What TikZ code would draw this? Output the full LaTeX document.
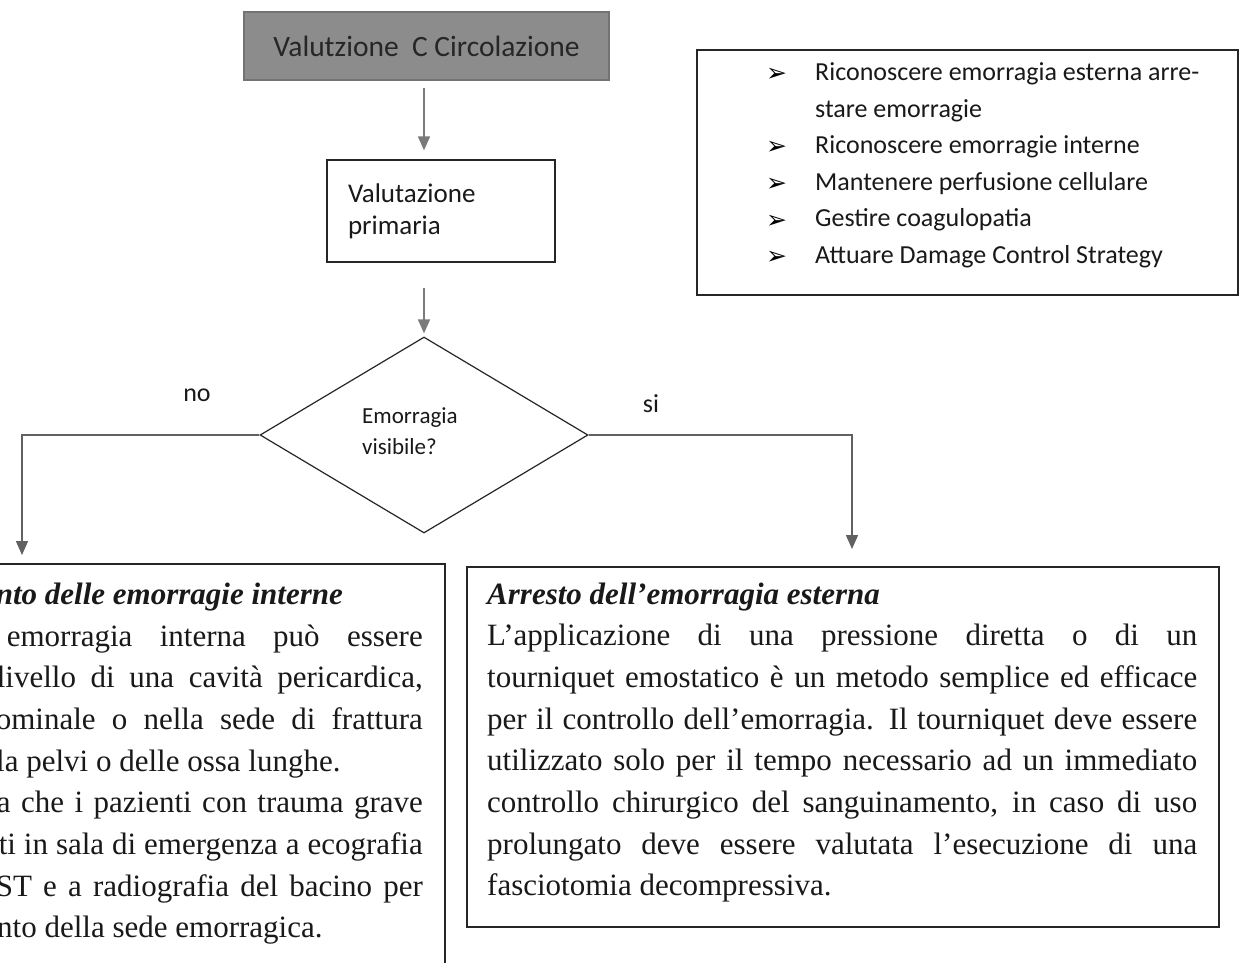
\documentclass[tikz,border=0pt]{standalone}
\usepackage{fontspec}
\setmainfont{Liberation Serif}
\newfontfamily\calfont{Carlito}
\newfontfamily\symfont{DejaVu Sans}
\usetikzlibrary{shapes.geometric,arrows.meta}
\tikzset{
  frame/.style={draw=black!85, line width=1.3pt, fill=white, inner sep=0pt},
  startbox/.style={draw=black!55, line width=1.3pt, fill=black!45, inner sep=0pt},
  flowarrow/.style={draw=black!52, line width=1.6pt, -{Triangle[length=14pt,width=12pt]}},
  connarrow/.style={draw=black!62, line width=1.5pt, -{Triangle[length=14pt,width=12pt]}},
  txt/.style={inner sep=0pt, anchor=base west, text=black!90},
  txte/.style={inner sep=0pt, anchor=base east, text=black!90},
  calsz/.style={font={\calfont\fontsize{#1}{#1}\selectfont}},
}
\newcommand{\serifsz}{\fontsize{31}{41.7}\selectfont}
\begin{document}
\begin{tikzpicture}[x=1pt,y=-1pt]
\useasboundingbox (0,0) rectangle (1245,963);
\clip (0,0) rectangle (1245,963);
\fill[white] (0,0) rectangle (1245,963);

% start box
\node[startbox, minimum width=365pt, minimum height=68pt, text=black!85,
      font={\calfont\fontsize{29.5}{34}\selectfont}] (b1) at (426.5,46) {Valutzione\ \ C Circolazione};

% second box
\node[frame, minimum width=228pt, minimum height=102pt, text width=186pt, align=left,
      text=black!90, font={\calfont\fontsize{27}{32}\selectfont}] (b2) at (441,211) {Valutazione\\primaria};

% decision
\node[diamond, draw=black!85, line width=1.2pt, fill=white, minimum width=328pt,
      minimum height=196pt, inner sep=0pt] (d) at (424,435) {};
\node[txt] (dq) at (362,423) {\parbox[t]{120pt}{\calfont\fontsize{23}{31}\selectfont Emorragia\\visibile?}};

\node[inner sep=0pt, text=black!90, calsz=26] (no) at (197,395) {no};
\node[inner sep=0pt, text=black!90, calsz=26] (si) at (651,404) {si};

% arrows
\draw[flowarrow, shorten <=7pt, shorten >=9pt] (b1.south -| d.north) -- (b2.north -| d.north);
\draw[flowarrow, shorten <=25pt, shorten >=3pt] (b2.south -| d.north) -- (d.north);
\coordinate (ltip) at (22,555);
\coordinate (rtip) at (852,549);
\draw[connarrow] (d.west) -| (ltip);
\draw[connarrow] (d.east) -| (rtip);

% top right box
\node[frame, minimum width=541pt, minimum height=245pt] (tr) at (967.5,172.5) {};
\node[txt] (trt) at (815,81) {\parbox[t]{420pt}{\calfont\fontsize{26}{36.5}\selectfont
  Riconoscere emorragia esterna arre-\\stare emorragie\\Riconoscere emorragie interne\\
  Mantenere perfusione cellulare\\Gestire coagulopatia\\Attuare Damage Control Strategy}};
\foreach \yy/\nm in {81/bu1,154/bu2,190.5/bu3,227/bu4,263.5/bu5}
  \node[txt, text=black] (\nm) at (766,\yy+1) {\symfont\fontsize{25}{25}\selectfont ➢};

% left bottom box (cut by the page edge)
\node[frame, minimum width=480pt, minimum height=430pt] (lb) at (205,779) {};
\node[txte] (l0) at (343,604) {\serifsz\bfseries\itshape nto delle emorragie interne};
\node[txte] (l1) at (423,646) {\serifsz\makebox[416pt][s]{emorragia interna può essere}};
\node[txte] (l2) at (423,687.7) {\serifsz\makebox[426pt][s]{livello di una cavità pericardica,}};
\node[txte] (l3) at (423,729.4) {\serifsz\makebox[427pt][s]{ominale o nella sede di frattura}};
\node[txt] (l4) at (-4,771.1) {\serifsz la pelvi o delle ossa lunghe.};
\node[txte] (l5) at (423,812.8) {\serifsz\makebox[426pt][s]{a che i pazienti con trauma grave}};
\node[txte] (l6) at (423,854.5) {\serifsz\makebox[424pt][s]{ti in sala di emergenza a ecografia}};
\node[txte] (l7) at (423,896.2) {\serifsz\makebox[427pt][s]{ST e a radiografia del bacino per}};
\node[txt] (l8) at (-3,937.9) {\serifsz nto della sede emorragica.};

% right bottom box
\node[frame, minimum width=752pt, minimum height=360pt] (rb) at (843,747) {};
\node[txt] (rbt) at (487,604) {\parbox[t]{710pt}{\serifsz\tolerance=10000
  {\bfseries\itshape Arresto dell’emorragia esterna}\\
  L’applicazione di una pressione diretta o di un\linebreak
  tourniquet emostatico è un metodo semplice ed efficace\linebreak
  per il controllo dell’emorragia. Il tourniquet deve essere\linebreak
  utilizzato solo per il tempo necessario ad un immediato\linebreak
  controllo chirurgico del sanguinamento, in caso di uso\linebreak
  prolungato deve essere valutata l’esecuzione di una\linebreak
  fasciotomia decompressiva.}};
\end{tikzpicture}
\end{document}
